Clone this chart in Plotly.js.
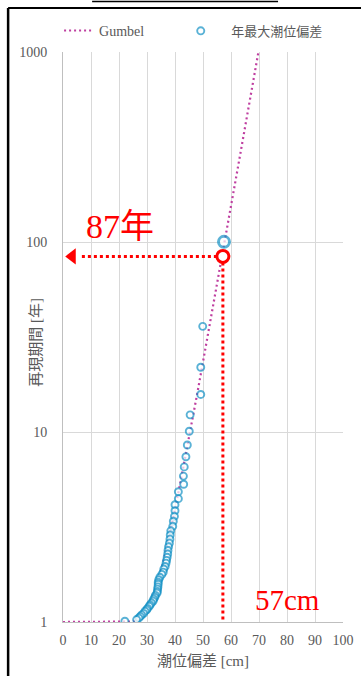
<!DOCTYPE html>
<html><head><meta charset="utf-8">
<script src="https://cdn.plot.ly/plotly-3.0.1.min.js"></script>
<style>html,body{margin:0;padding:0;background:#fff;overflow:hidden}#chart{width:361px;height:676px}</style>
</head><body><div id="chart"></div>
<script>
// Gumbel fitted curve: surge [cm] vs return period [years]
const gumbelX = [0, 5, 10, 15, 20, 21, 22, 23, 24, 25, 26, 27, 28, 29, 30, 31, 32, 33, 34, 35, 36, 38, 40, 42, 44, 46, 48, 50, 52, 54, 56, 58, 60, 62, 64, 66, 68, 70];
const gumbelT = [1, 1, 1, 1, 1.000001, 1.000015, 1.0001, 1.0005, 1.0019, 1.0058, 1.0143, 1.0304, 1.0575, 1.099, 1.159, 1.240, 1.347, 1.484, 1.655, 1.869, 2.132, 2.85, 3.91, 5.49, 7.79, 11.16, 16.1, 23.4, 33.9, 49.5, 72, 105.7, 155, 226, 331, 484, 710, 1040];

// Annual maximum storm surge (sorted, largest first) and plotted return period
const surgeX = [57.5, 49.9, 49.2, 49.2, 45.4, 45.1, 44.4, 43.9, 43.3, 43.0, 43.1, 41.2, 41.2, 40.0, 40.0, 39.8, 39.4, 39.2, 38.5, 38.3, 38.2, 38.0, 37.7, 37.5, 37.4, 37.2, 37.0, 36.8, 36.5, 36.0, 35.8, 35.3, 34.6, 34.2, 34.0, 34.0, 33.9, 33.8, 33.7, 33.6, 33.0, 32.8, 32.4, 32.2, 31.6, 31.1, 30.8, 30.2, 29.9, 29.3, 28.8, 28.1, 27.6, 27.1, 26.3, 22.1];
const surgeT = [100.2, 35.97, 21.92, 15.76, 12.31, 10.09, 8.54, 7.41, 6.55, 5.86, 5.31, 4.85, 4.46, 4.14, 3.85, 3.60, 3.39, 3.19, 3.02, 2.87, 2.73, 2.60, 2.49, 2.38, 2.28, 2.19, 2.11, 2.04, 1.96, 1.90, 1.83, 1.78, 1.72, 1.67, 1.62, 1.58, 1.53, 1.49, 1.45, 1.42, 1.38, 1.35, 1.32, 1.29, 1.26, 1.23, 1.21, 1.18, 1.16, 1.14, 1.11, 1.09, 1.07, 1.05, 1.03, 1.01];

// Read-off point (as drawn) and its labels
const readX = 57.1;
const readT = 84;
const readYearLabel = '87年';
const readCmLabel = '57cm';

const xTickVals = [0, 10, 20, 30, 40, 50, 60, 70, 80, 90, 100];
const yTickVals = [1, 10, 100, 1000];
const yTickText = ['1', '10', '100', '1000'];

const FONT = "'Liberation Serif', 'Noto Sans CJK JP', serif";
const GRAY = '#595959';
const BLUE = '#1592c6';
const MAG = '#bf3fa0';
const RED = '#ff0000';

const traces = [
  {x: gumbelX, y: gumbelT, type: 'scatter', mode: 'lines', name: 'Gumbel', legend: 'legend',
   line: {color: MAG, width: 2.2, dash: '2px,3px'}, hoverinfo: 'skip'},
  {x: surgeX, y: surgeT, type: 'scatter', mode: 'markers', name: '年最大潮位偏差', legend: 'legend2',
   marker: {symbol: 'circle', color: '#ffffff',
            size: surgeX.map((v, i) => i === 0 ? 11 : 7),
            line: {color: BLUE, width: surgeX.map((v, i) => i === 0 ? 3 : 1.9)}}},
  // red horizontal guide with arrow
  {x: [readX, 6.5], y: [readT, readT], type: 'scatter', mode: 'lines', showlegend: false,
   line: {color: RED, width: 3, dash: '3px,3px'}, hoverinfo: 'skip'},
  {x: [3.3], y: [readT], type: 'scatter', mode: 'markers', showlegend: false,
   marker: {symbol: 'triangle-left', size: 14, color: RED}, hoverinfo: 'skip'},
  // red vertical guide
  {x: [readX, readX], y: [readT, 1], type: 'scatter', mode: 'lines', showlegend: false,
   line: {color: RED, width: 3, dash: '3px,3px'}, hoverinfo: 'skip'},
  {x: [readX], y: [readT], type: 'scatter', mode: 'markers', showlegend: false,
   marker: {symbol: 'circle', size: 12, color: '#ffffff', line: {color: RED, width: 3}}, hoverinfo: 'skip'}
];

const legendBase = {orientation: 'h', xanchor: 'left', y: 1.037, yanchor: 'middle',
  font: {family: FONT, size: 14, color: GRAY}, bgcolor: 'rgba(0,0,0,0)', itemwidth: 30};

const layout = {
  width: 361, height: 676,
  margin: {l: 63, r: 18, t: 52, b: 54},
  paper_bgcolor: '#ffffff', plot_bgcolor: '#ffffff',
  font: {family: FONT, color: GRAY, size: 14},
  showlegend: true,
  legend: Object.assign({}, legendBase, {x: -0.014}),
  legend2: Object.assign({}, legendBase, {x: 0.383, itemwidth: 51,
                                          font: {family: FONT, size: 13, color: GRAY}}),
  xaxis: {range: [0, 100], tickvals: xTickVals, showgrid: true, gridcolor: '#d9d9d9', gridwidth: 1,
          showline: true, linecolor: '#bfbfbf', linewidth: 1, zeroline: false, ticks: '',
          tickfont: {family: FONT, size: 14, color: GRAY}, ticklabelstandoff: 5,
          title: {text: '潮位偏差 [cm]', font: {family: FONT, size: 15, color: GRAY}, standoff: 8}},
  yaxis: {type: 'log', range: [0, 3], tickvals: yTickVals, ticktext: yTickText,
          showgrid: true, gridcolor: '#d9d9d9', gridwidth: 1,
          showline: true, linecolor: '#bfbfbf', linewidth: 1, zeroline: false, ticks: '',
          tickfont: {family: FONT, size: 14, color: GRAY}, ticklabelstandoff: 12},
  annotations: [
    {text: '再現期間 [年]', xref: 'paper', yref: 'paper', x: -0.132, y: 0.49, textangle: -90,
     showarrow: false, font: {family: FONT, size: 15, color: GRAY}},
    {text: readYearLabel, xref: 'x', yref: 'y', x: 20.4, y: Math.log10(120), showarrow: false,
     font: {family: FONT, size: 34, color: RED}},
    {text: readCmLabel, xref: 'x', yref: 'y', x: 80, y: Math.log10(1.3), showarrow: false,
     font: {family: FONT, size: 29, color: RED}}
  ],
  shapes: [
    {type: 'line', xref: 'paper', yref: 'paper', x0: -0.196, x1: 1.1, y0: 1.077, y1: 1.077,
     line: {color: '#000000', width: 2}},
    {type: 'line', xref: 'paper', yref: 'paper', x0: -0.196, x1: -0.196, y0: -0.12, y1: 1.077,
     line: {color: '#000000', width: 2.5}},
    {type: 'line', xref: 'paper', yref: 'paper', x0: 0.104, x1: 0.768, y0: 1.0885, y1: 1.0885,
     line: {color: '#000000', width: 1.5}}
  ]
};

Plotly.newPlot('chart', traces, layout, {displayModeBar: false, staticPlot: true});
</script>
</body></html>
